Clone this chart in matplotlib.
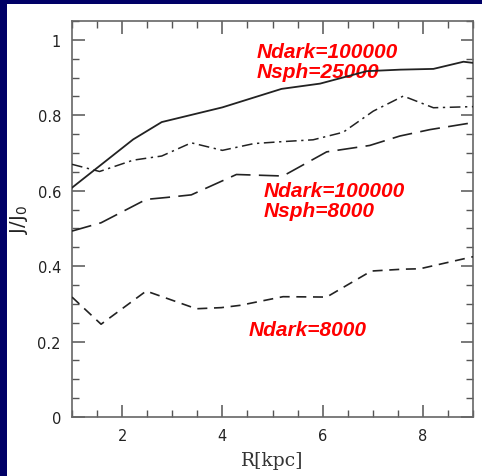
import matplotlib
matplotlib.use("Agg")
import matplotlib.pyplot as plt
from matplotlib.patches import Rectangle
from matplotlib.ticker import MultipleLocator

# Ndark=100000, Nsph=25000 (solid)
r_solid = [1.0, 2.22, 2.79, 4.0, 5.18, 5.95, 6.88, 7.55, 8.21, 8.81, 9.0]
j_solid = [0.608, 0.736, 0.782, 0.821, 0.870, 0.884, 0.917, 0.921, 0.923, 0.942, 0.939]

# dash-dot
r_dd = [1.0, 1.55, 2.22, 2.79, 3.38, 4.0, 4.63, 5.18, 5.81, 6.41, 7.01, 7.61, 8.21, 9.0]
j_dd = [0.670, 0.651, 0.681, 0.692, 0.727, 0.707, 0.725, 0.730, 0.735, 0.755, 0.811, 0.851, 0.820, 0.823]

# Ndark=100000, Nsph=8000 (long dash)
r_long = [1.0, 1.58, 2.48, 2.88, 3.38, 4.28, 5.21, 6.08, 6.94, 7.54, 8.14, 8.88, 9.0]
j_long = [0.493, 0.515, 0.577, 0.582, 0.589, 0.643, 0.639, 0.703, 0.720, 0.745, 0.762, 0.778, 0.780]

# Ndark=8000 (short dash)
r_short = [1.0, 1.58, 2.48, 3.48, 3.98, 4.35, 5.21, 6.08, 6.97, 7.61, 7.94, 9.0]
j_short = [0.318, 0.246, 0.334, 0.287, 0.290, 0.296, 0.319, 0.318, 0.387, 0.392, 0.393, 0.425]

fig = plt.figure(figsize=(4.82, 4.77), dpi=100, facecolor="#000066")
fig.patches.append(Rectangle((7 / 482, 0), 1, 1 - 5 / 477, transform=fig.transFigure,
                             facecolor="white", edgecolor="none", zorder=-10))
ax = fig.add_axes([72 / 482, 1 - 418 / 477, 401 / 482, 396 / 477])

lc = "#222222"
ax.plot(r_solid, j_solid, color=lc, lw=1.3, zorder=3)
ax.plot(r_dd, j_dd, color=lc, lw=1.1, dashes=(7, 3, 1.5, 3), zorder=3)
ax.plot(r_long, j_long, color=lc, lw=1.2, dashes=(12, 5), zorder=3)
ax.plot(r_short, j_short, color=lc, lw=1.2, dashes=(6, 4), zorder=3)

ax.set_xlim(1, 9)
ax.set_ylim(0, 1.05)
ax.xaxis.set_major_locator(MultipleLocator(2))
ax.xaxis.set_minor_locator(MultipleLocator(0.5))
ax.yaxis.set_minor_locator(MultipleLocator(0.05))
ax.set_yticks([0, 0.2, 0.4, 0.6, 0.8, 1.0])
ax.set_yticklabels(["0", "0.2", "0.4", "0.6", "0.8", "1"])
ax.tick_params(which="both", direction="in", top=True, right=True, color="#555555",
               labelsize=10.5, labelcolor="#222222", pad=8)
ax.tick_params(which="major", length=9, width=1.1)
ax.tick_params(which="minor", length=5, width=1.0)
for s in ax.spines.values():
    s.set_color("#666666")
    s.set_linewidth(1.2)

ax.set_xlabel("R[kpc]", family="DejaVu Serif", fontsize=13.5, color="#333333", labelpad=6)
ax.set_ylabel(r"J/J$_0$", fontsize=14, color="#222222")
ax.yaxis.set_label_coords(-0.105, 0.5)

red = dict(color="red", fontsize=15, fontweight="bold", fontstyle="italic",
           family="Liberation Sans", va="top", linespacing=1.1, zorder=2)
ax.text(4.69, 0.995, "Ndark=100000\nNsph=25000", **red)
ax.text(4.83, 0.627, "Ndark=100000\nNsph=8000", **red)
ax.text(4.53, 0.256, "Ndark=8000", **red)

fig.savefig("out.png", dpi=100, facecolor=fig.get_facecolor())
